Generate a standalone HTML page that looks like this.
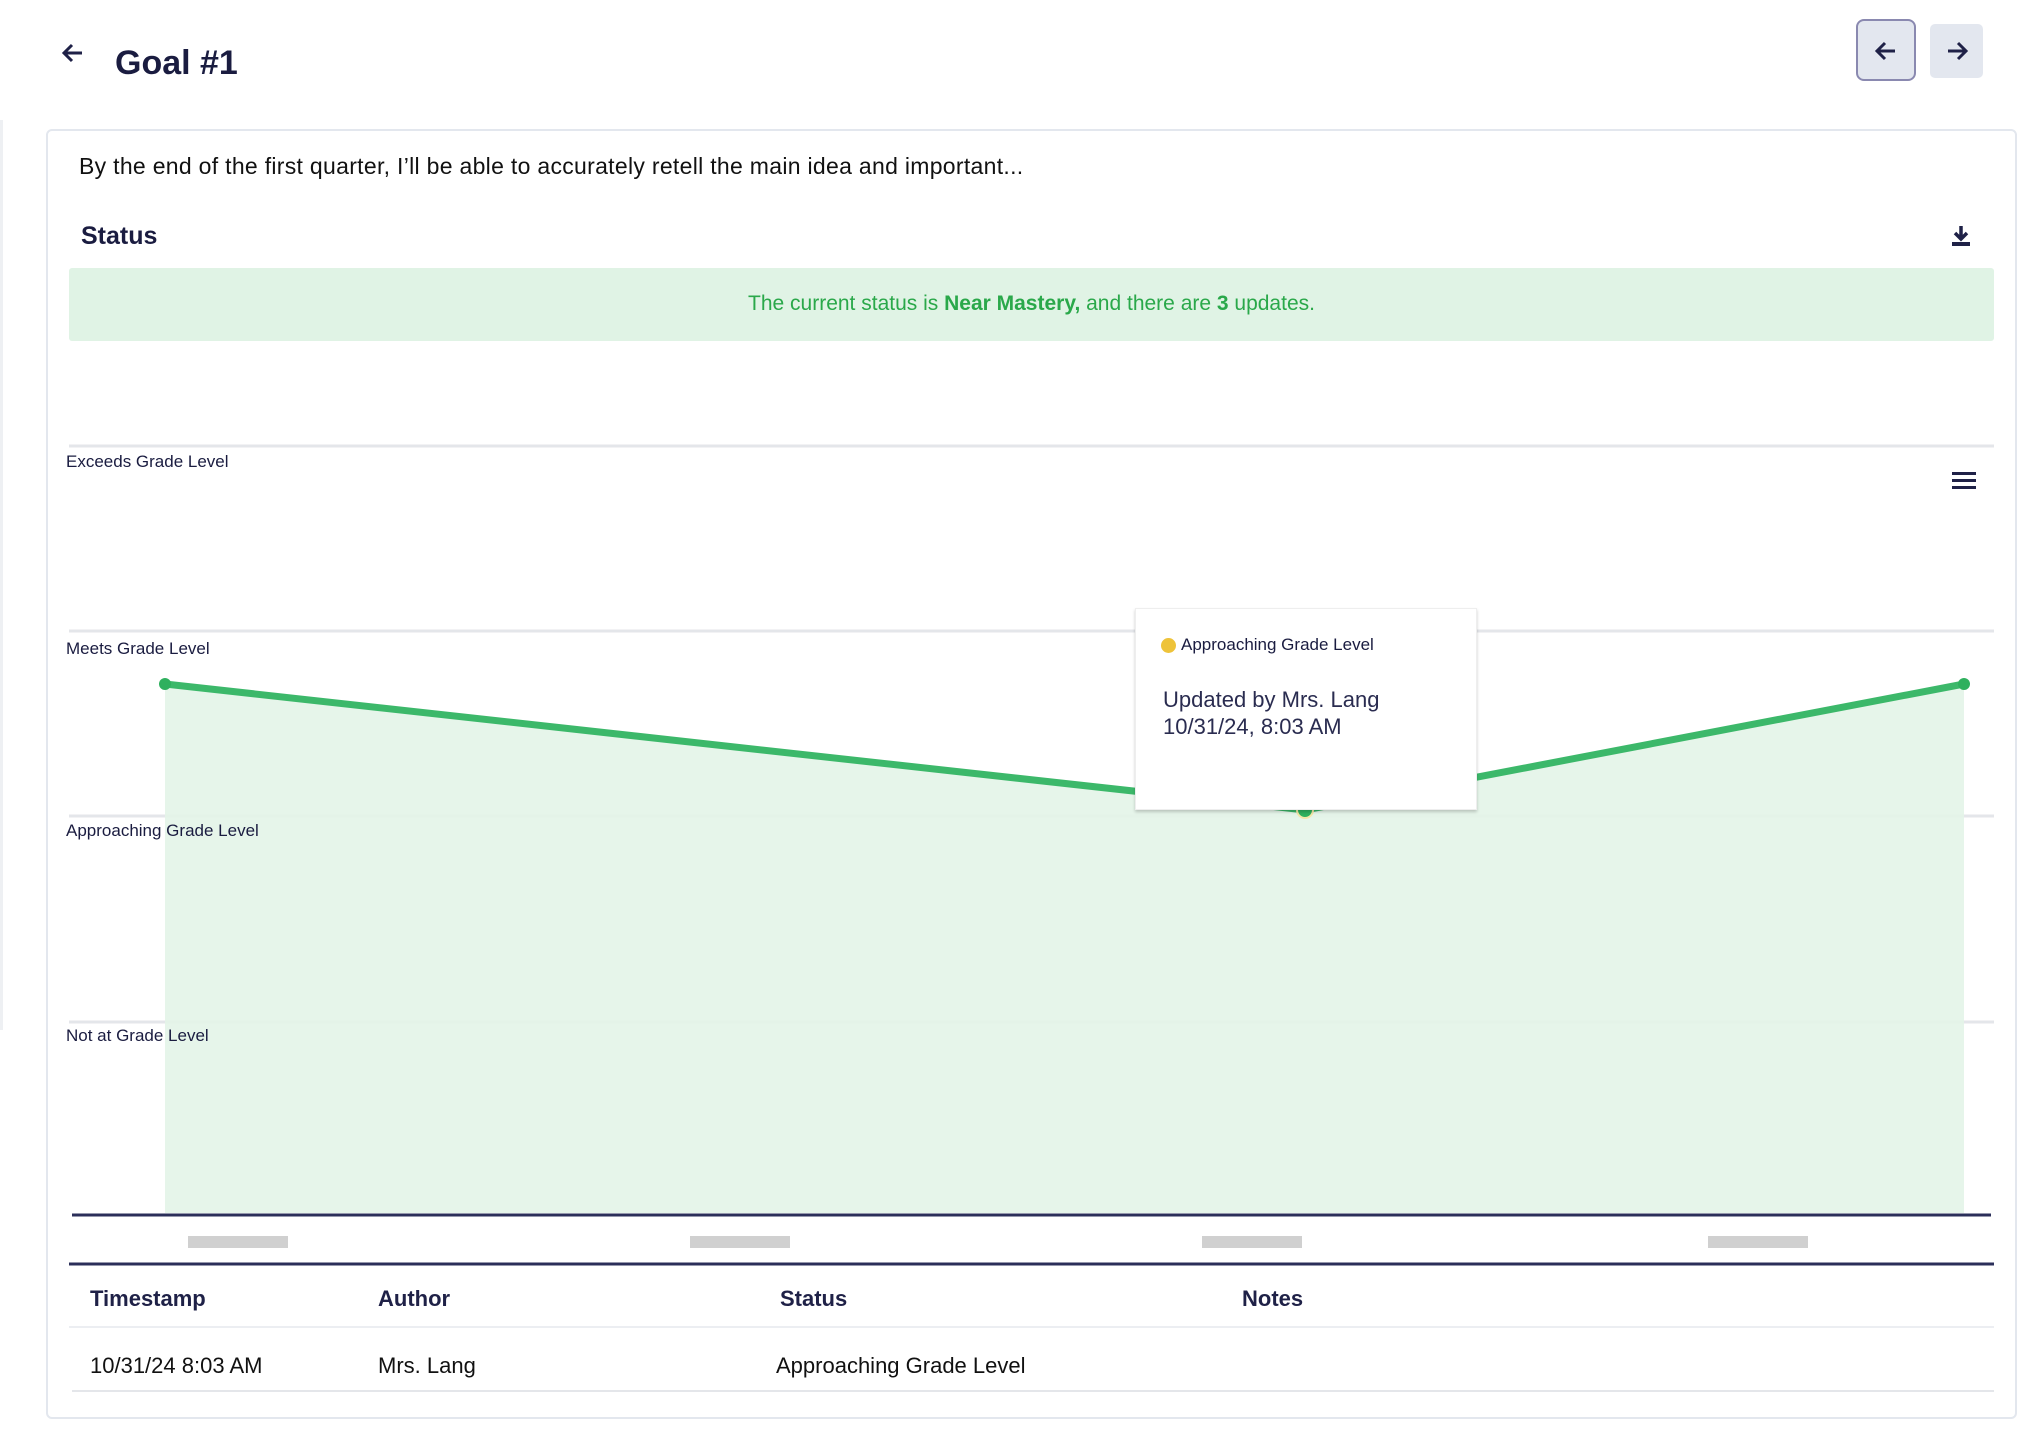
<!DOCTYPE html>
<html><head><meta charset="utf-8"><style>
body{margin:0;width:2036px;height:1444px;background:#fff;font-family:"Liberation Sans",sans-serif;color:#1f2147;position:relative;overflow:hidden}
.a{position:absolute;white-space:nowrap}
</style></head><body>
<div class="a" style="left:0;top:120px;width:3px;height:910px;background:#eef0f3"></div>
<svg class="a" style="left:60px;top:40px" width="26" height="26" viewBox="0 0 26 26"><path d="M22 13H5M12 5l-8 8 8 8" stroke="#1f2147" stroke-width="3" fill="none"/></svg>
<div class="a" style="left:115px;top:44px;font-size:34px;font-weight:bold;color:#1a1c40">Goal #1</div>
<div class="a" style="left:1856px;top:19px;width:60px;height:62px;border:2px solid #8a89b0;border-radius:8px;background:#e3e7ef;box-sizing:border-box"></div>
<svg class="a" style="left:1873px;top:38px" width="26" height="26" viewBox="0 0 26 26"><path d="M22 13H5M12 5l-8 8 8 8" stroke="#1f2147" stroke-width="3" fill="none"/></svg>
<div class="a" style="left:1930px;top:24px;width:53px;height:54px;border-radius:5px;background:#e3e7ef"></div>
<svg class="a" style="left:1944px;top:38px" width="26" height="26" viewBox="0 0 26 26"><path d="M4 13h17M14 5l8 8-8 8" stroke="#1f2147" stroke-width="3" fill="none"/></svg>
<div class="a" style="left:46px;top:129px;width:1971px;height:1290px;border:2px solid #e3e7ee;border-radius:6px;box-sizing:border-box"></div>
<div class="a" style="left:79px;top:153px;font-size:23px;letter-spacing:0.3px;color:#111">By the end of the first quarter, I’ll be able to accurately retell the main idea and important...</div>
<div class="a" style="left:81px;top:222px;font-size:25px;font-weight:bold;color:#1a1c40">Status</div>
<svg class="a" style="left:1950px;top:224px" width="22" height="24" viewBox="0 0 22 24"><path d="M11 2v13M5 9l6 6 6-6" stroke="#1f2147" stroke-width="3.5" fill="none"/><rect x="2" y="18" width="18" height="4" fill="#1f2147"/></svg>
<div class="a" style="left:69px;top:268px;width:1925px;height:73px;background:#e0f3e5;border-radius:3px"></div>
<div class="a" style="left:69px;top:292px;width:1925px;text-align:center;font-size:21px;color:#2aa84a">The current status is <b>Near Mastery,</b> and there are <b>3</b> updates.</div>
<svg class="a" style="left:0;top:0" width="2036" height="1444">
<g stroke="#e4e6ea" stroke-width="3"><line x1="69" y1="446" x2="1994" y2="446"/><line x1="69" y1="631" x2="1994" y2="631"/><line x1="69" y1="816" x2="1994" y2="816"/><line x1="69" y1="1022" x2="1994" y2="1022"/></g>
<polygon points="165,684 1305,810 1964,684 1964,1213 165,1213" fill="#e3f4e8" opacity="0.9"/>
<polyline points="165,684 1305,810 1964,684" fill="none" stroke="#3cb86a" stroke-width="7" stroke-linejoin="round"/>
<circle cx="165" cy="684" r="6" fill="#2fb05e"/><circle cx="1964" cy="684" r="6" fill="#2fb05e"/><circle cx="1305" cy="810" r="8" fill="#2fb05e" stroke="#f3e7a8" stroke-width="2"/>
<line x1="72" y1="1215" x2="1991" y2="1215" stroke="#2b2f5a" stroke-width="3"/>
<g fill="#d0d0d0"><rect x="188" y="1236" width="100" height="12"/><rect x="690" y="1236" width="100" height="12"/><rect x="1202" y="1236" width="100" height="12"/><rect x="1708" y="1236" width="100" height="12"/></g>
<line x1="69" y1="1264" x2="1994" y2="1264" stroke="#2b2f5a" stroke-width="3"/>
<line x1="69" y1="1327" x2="1994" y2="1327" stroke="#eceef2" stroke-width="2"/>
<line x1="72" y1="1391" x2="1994" y2="1391" stroke="#e4e6ea" stroke-width="2"/>
<g fill="#1f2147"><rect x="1952" y="472" width="24" height="3"/><rect x="1952" y="479" width="24" height="3"/><rect x="1952" y="486" width="24" height="3"/></g>
</svg>
<div class="a" style="left:66px;top:452px;font-size:17px;color:#1a1c40">Exceeds Grade Level</div>
<div class="a" style="left:66px;top:639px;font-size:17px;color:#1a1c40">Meets Grade Level</div>
<div class="a" style="left:66px;top:821px;font-size:17px;color:#1a1c40">Approaching Grade Level</div>
<div class="a" style="left:66px;top:1026px;font-size:17px;color:#1a1c40">Not at Grade Level</div>
<div class="a" style="left:1135px;top:608px;width:340px;height:200px;background:#fff;box-shadow:0 2px 3px rgba(0,0,0,0.2);border:1px solid #eee"></div>
<div class="a" style="left:1161px;top:638px;width:15px;height:15px;border-radius:50%;background:#eec33a"></div>
<div class="a" style="left:1181px;top:635px;font-size:17px;color:#1a1c40">Approaching Grade Level</div>
<div class="a" style="left:1163px;top:686px;font-size:22px;line-height:27px;color:#2a2c50">Updated by Mrs. Lang<br>10/31/24, 8:03 AM</div>
<div class="a" style="left:90px;top:1286px;font-size:22px;font-weight:bold">Timestamp</div>
<div class="a" style="left:378px;top:1286px;font-size:22px;font-weight:bold">Author</div>
<div class="a" style="left:780px;top:1286px;font-size:22px;font-weight:bold">Status</div>
<div class="a" style="left:1242px;top:1286px;font-size:22px;font-weight:bold">Notes</div>
<div class="a" style="left:90px;top:1353px;font-size:22px;color:#111">10/31/24 8:03 AM</div>
<div class="a" style="left:378px;top:1353px;font-size:22px;color:#111">Mrs. Lang</div>
<div class="a" style="left:776px;top:1353px;font-size:22px;color:#111">Approaching Grade Level</div>
</body></html>
